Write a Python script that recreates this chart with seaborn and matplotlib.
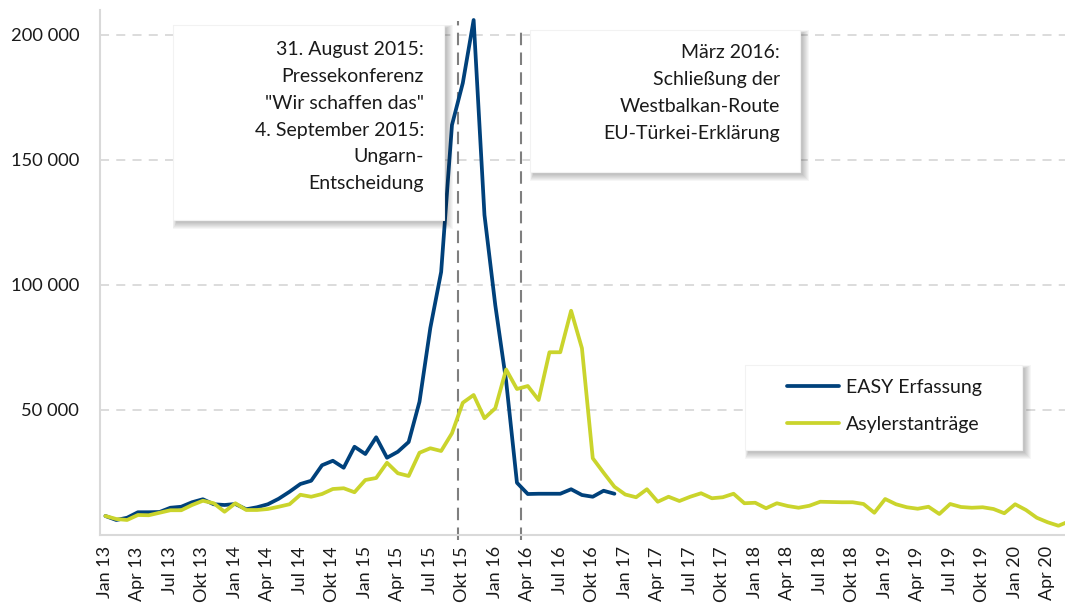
import pandas as pd
import matplotlib.pyplot as plt
import matplotlib.transforms as mtransforms
import seaborn as sns
from matplotlib.patches import Rectangle

# -------------------------------
# Monatswerte Jan 2013 - Jun 2020
easy = [
    7400, 5800, 6700, 8900, 8900, 9000, 10700, 11100, 12900, 14100, 12100, 11800,
    12200, 10100, 10900, 12100, 14300, 17100, 20200, 21500, 27700, 29500, 26700, 35100,
    32200, 38900, 30700, 33100, 37000, 53100, 82600, 105000, 163800, 180600, 205800, 127800,
    91700, 61400, 20700, 16200, 16300, 16300, 16300, 18100, 15800, 15100, 17500, 16300,
]
asyl = [
    7400, 6200, 5800, 7800, 7700, 8700, 9700, 9700, 11800, 13500, 12500, 9100,
    12500, 9800, 9800, 10200, 11100, 12100, 15900, 15100, 16200, 18200, 18500, 16900,
    21800, 22600, 28700, 24500, 23400, 32700, 34500, 33400, 40500, 52700, 55800, 46500,
    50500, 66000, 58200, 59400, 53800, 72900, 72900, 89500, 74500, 30500, 24700, 19100,
    16000, 14900, 18100, 13100, 15100, 13400, 15100, 16500, 14500, 14900, 16300, 12500,
    12700, 10500, 12500, 11400, 10700, 11500, 13100, 13000, 12900, 12900, 12200, 8700,
    14200, 12100, 10900, 10300, 11100, 8200, 12200, 11000, 10700, 10900, 10200, 8500,
    12100, 9800, 6700, 4900, 3500, 5300,
]
quartal_labels = [
    "Jan 13", "Apr 13", "Jul 13", "Okt 13", "Jan 14", "Apr 14", "Jul 14", "Okt 14",
    "Jan 15", "Apr 15", "Jul 15", "Okt 15", "Jan 16", "Apr 16", "Jul 16", "Okt 16",
    "Jan 17", "Apr 17", "Jul 17", "Okt 17", "Jan 18", "Apr 18", "Jul 18", "Okt 18",
    "Jan 19", "Apr 19", "Jul 19", "Okt 19", "Jan 20", "Apr 20",
]
y_ticks = [50000, 100000, 150000, 200000]
ereignisse = [33.1, 38.9]   # Monatsposition der gestrichelten Linien
ereignis_oben = [205500, 203000]

text_links = ["31. August 2015:", "Pressekonferenz", "\"Wir schaffen das\"",
              "4. September 2015:", "Ungarn-", "Entscheidung"]
text_rechts = ["März 2016:", "Schließung der", "Westbalkan-Route", "EU-Türkei-Erklärung"]

df = pd.concat([
    pd.DataFrame({"monat": [i + 0.5 for i in range(len(easy))], "wert": easy, "reihe": "EASY Erfassung"}),
    pd.DataFrame({"monat": [i + 0.5 for i in range(len(asyl))], "wert": asyl, "reihe": "Asylerstanträge"}),
])

# -------------------------------
sns.set_style("white")
plt.rcParams['font.family'] = ['Lato', 'DejaVu Sans']

W, H = 1065, 605
fig = plt.figure(figsize=(W / 100, H / 100), dpi=100)
ax = fig.add_axes([100 / W, (H - 534.5) / H, (W - 100) / W, (534.5 - 10) / H])

blau = "#00417B"
gelb = "#CAD42C"
sns.lineplot(data=df, x="monat", y="wert", hue="reihe",
             palette={"EASY Erfassung": blau, "Asylerstanträge": gelb},
             linewidth=2.7, ax=ax, legend=False, zorder=3)

ax.set_xlim(0, (W - 100) / 10.83)
ax.set_ylim(0, 209800)
ax.set_xlabel("")
ax.set_ylabel("")

ax.set_xticks(range(0, 3 * len(quartal_labels), 3))
ax.set_xticklabels(quartal_labels, rotation=90, fontsize=13, color="#1a1a1a")
ax.set_yticks(y_ticks)
ax.set_yticklabels([f"{v:,}".replace(",", " ") for v in y_ticks], fontsize=13.2, color="#1a1a1a")
ax.tick_params(axis="x", length=5.5, width=1.3, color="#d9d9d9", pad=3)
ax.tick_params(axis="y", length=0, pad=15)

# Beschriftungen leicht nach rechts wie im Original
verschiebung = mtransforms.ScaledTranslation(5 / 100, 0, fig.dpi_scale_trans)
for lbl in ax.get_xticklabels():
    lbl.set_transform(lbl.get_transform() + verschiebung)

for s in ["top", "right"]:
    ax.spines[s].set_visible(False)
for s in ["left", "bottom"]:
    ax.spines[s].set_color("#d9d9d9")
    ax.spines[s].set_linewidth(1.5)

ax.yaxis.grid(True, color="#d9d9d9", linestyle=(0, (5, 4)), linewidth=1.3)
ax.set_axisbelow(True)

for x, top in zip(ereignisse, ereignis_oben):
    ax.plot([x, x], [-2000, top], color="#7f7f7f", linestyle=(0, (6, 3.5)),
            linewidth=1.5, clip_on=False, zorder=2)


# -------------------------------
# Kästen mit Schatten (Pixelkoordinaten, Ursprung oben links)
def kasten(x0, y0, x1, y1):
    for k in range(7):
        fig.patches.append(Rectangle(((x0 + 3 - k * 0.5) / W, 1 - (y1 + 3 + k) / H),
                                     (x1 - x0 + k * 1.5) / W, (y1 - y0 + k * 1.5) / H,
                                     transform=fig.transFigure, facecolor="black",
                                     edgecolor="none", alpha=0.035, zorder=1))
    fig.patches.append(Rectangle((x0 / W, 1 - y1 / H), (x1 - x0) / W, (y1 - y0) / H,
                                 transform=fig.transFigure, facecolor="white",
                                 edgecolor="#f2f2f2", linewidth=0.8, zorder=2))


kasten(173, 25, 444, 220)
for j, zeile in enumerate(text_links):
    fig.text(424 / W, 1 - (50 + j * 26.7) / H, zeile, ha="right", va="center",
             fontsize=14, color="#1a1a1a", zorder=3)

kasten(530, 30, 800, 172)
for j, zeile in enumerate(text_rechts):
    fig.text(780 / W, 1 - (53 + j * 27) / H, zeile, ha="right", va="center",
             fontsize=14, color="#1a1a1a", zorder=3)

kasten(745, 365, 1022, 450)
handles = [plt.Line2D([], [], color=blau, linewidth=2.7),
           plt.Line2D([], [], color=gelb, linewidth=2.7)]
fig.legend(handles, ["EASY Erfassung", "Asylerstanträge"], loc="center left",
           bbox_to_anchor=(787 / W, 1 - 406 / H), bbox_transform=fig.transFigure,
           frameon=False, fontsize=14, handlelength=2.65, handletextpad=0.4,
           labelspacing=1.0, borderpad=0, borderaxespad=0, labelcolor="#1a1a1a")

plt.savefig("out.png", dpi=100)
